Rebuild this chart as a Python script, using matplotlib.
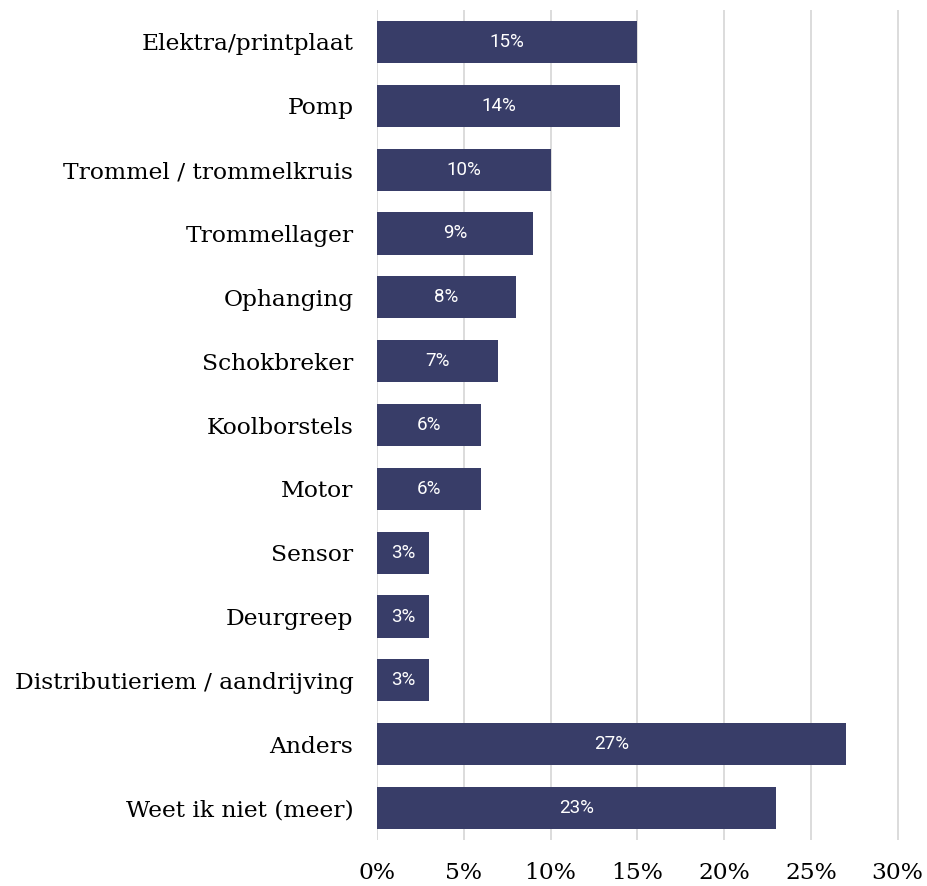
import matplotlib.pyplot as plt

categories = [
    "Elektra/printplaat",
    "Pomp",
    "Trommel / trommelkruis",
    "Trommellager",
    "Ophanging",
    "Schokbreker",
    "Koolborstels",
    "Motor",
    "Sensor",
    "Deurgreep",
    "Distributieriem / aandrijving",
    "Anders",
    "Weet ik niet (meer)",
]
values = [15, 14, 10, 9, 8, 7, 6, 6, 3, 3, 3, 27, 23]
xticks = [0, 5, 10, 15, 20, 25, 30]
xtick_labels = ["0%", "5%", "10%", "15%", "20%", "25%", "30%"]

bar_color = "#383d68"
grid_color = "#d9d9d9"

fig = plt.figure(figsize=(9.27, 8.86), dpi=100)
ax = fig.add_axes([0.4067, 0.0519, 0.5635, 0.9368])

ypos = list(range(len(categories)))
ax.barh(ypos, values, height=0.66, color=bar_color, zorder=3)

# value labels centered in bars
for y, v in zip(ypos, values):
    ax.text(v / 2, y, f"{v}%", ha="center", va="center", color="white",
            fontsize=13.5, family="Roboto", zorder=4)

ax.set_xlim(0, 30.1)
ax.set_ylim(len(categories) - 0.5, -0.5)
ax.set_yticks(ypos)
ax.set_yticklabels(categories, family="DejaVu Serif", fontsize=16.8)
ax.set_xticks(xticks)
ax.set_xticklabels(xtick_labels, family="DejaVu Serif", fontsize=16.8)

ax.grid(axis="x", color=grid_color, linewidth=1.3, zorder=0)
for s in ax.spines.values():
    s.set_visible(False)
ax.tick_params(axis="both", length=0)
ax.tick_params(axis="y", pad=17)
ax.tick_params(axis="x", pad=16)

plt.savefig("out.png", dpi=100)
